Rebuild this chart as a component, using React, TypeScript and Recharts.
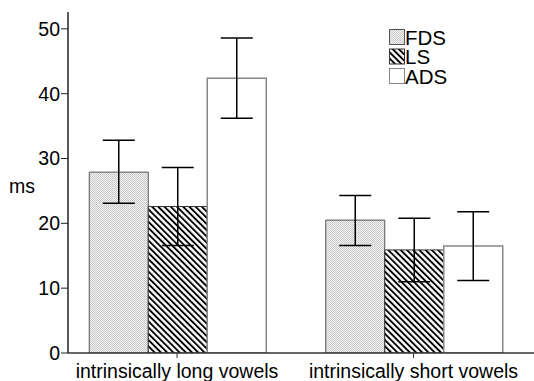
import React from 'react';
import { ComposedChart, Bar, XAxis, YAxis, ErrorBar, Customized } from 'recharts';

const categories = ['intrinsically long vowels', 'intrinsically short vowels'];
const seriesNames = ['FDS', 'LS', 'ADS'];
const fdsValues = [27.9, 20.5];
const fdsLow = [23.1, 16.6];
const fdsHigh = [32.8, 24.3];
const lsValues = [22.6, 15.9];
const lsLow = [16.6, 11.0];
const lsHigh = [28.6, 20.8];
const adsValues = [42.4, 16.5];
const adsLow = [36.2, 11.2];
const adsHigh = [48.6, 21.8];
const yTicks = [0, 10, 20, 30, 40, 50];

const data = categories.map((c, i) => ({
  name: c,
  FDS: fdsValues[i],
  FDSerr: [fdsValues[i] - fdsLow[i], fdsHigh[i] - fdsValues[i]],
  LS: lsValues[i],
  LSerr: [lsValues[i] - lsLow[i], lsHigh[i] - lsValues[i]],
  ADS: adsValues[i],
  ADSerr: [adsValues[i] - adsLow[i], adsHigh[i] - adsValues[i]],
}));

const FONT = '"Liberation Sans", Arial, sans-serif';
const fills = ['url(#dots)', 'url(#hatch)', '#ffffff'];
const strokes = ['#555', '#333', '#888'];

const LegendBox = () => (
  <g>
    {seriesNames.map((n, i) => (
      <g key={n}>
        <rect x={389.5} y={29.5 + i * 19.5} width={15} height={15} fill={fills[i]} stroke={strokes[i]} strokeWidth={1} />
        <text x={405} y={44.5 + i * 19.5} fontSize={20.5} fontFamily={FONT} fill="#000">{n}</text>
      </g>
    ))}
  </g>
);

export default function App() {
  return (
    <div style={{ position: 'absolute', left: 0, top: 0 }}>
      <ComposedChart
        width={534}
        height={381}
        data={data}
        margin={{ top: 12, right: 0, bottom: 0, left: 0 }}
        barCategoryGap={30.5}
        barGap={0}
      >
        <defs>
          <pattern id="dots" width={2} height={2} patternUnits="userSpaceOnUse">
            <rect x={0} y={0} width={2} height={2} fill="#f2f2f2" />
            <rect x={0} y={0} width={1} height={1} fill="#c4c4c4" />
            <rect x={1} y={1} width={1} height={1} fill="#d0d0d0" />
          </pattern>
          <pattern id="hatch" width={4.4} height={4.4} patternUnits="userSpaceOnUse" patternTransform="rotate(-45)">
            <rect x={0} y={0} width={4.4} height={4.4} fill="#ffffff" />
            <rect x={0} y={0} width={1.9} height={4.4} fill="#000000" />
          </pattern>
        </defs>
        <XAxis
          dataKey="name"
          xAxisId="top"
          orientation="top"
          height={0}
          tick={false}
          tickLine={false}
          axisLine={{ stroke: '#555', strokeWidth: 1.5 }}
        />
        <XAxis
          dataKey="name"
          padding={{ left: -9.25, right: 2.25 }}
          height={28}
          tickSize={5}
          tickMargin={6}
          tick={{ fontSize: 19.5, fill: '#000', fontFamily: FONT }}
          axisLine={{ stroke: '#333', strokeWidth: 1.5 }}
          tickLine={{ stroke: '#333' }}
          interval={0}
        />
        <YAxis
          width={68}
          domain={[0, 52.6]}
          ticks={yTicks}
          tickSize={7}
          tickMargin={1}
          tick={{ fontSize: 19.5, fill: '#000', fontFamily: FONT }}
          axisLine={{ stroke: '#222', strokeWidth: 1.5 }}
          tickLine={{ stroke: '#222' }}
          allowDataOverflow
          label={{ value: 'ms', position: 'insideLeft', offset: 9, fontSize: 19.5, fill: '#000', fontFamily: FONT, dy: 4 }}
        />
        <Bar dataKey="FDS" xAxisId={0} fill={fills[0]} stroke={strokes[0]} strokeWidth={1} isAnimationActive={false}>
          <ErrorBar dataKey="FDSerr" width={16} stroke="#000" strokeWidth={1.5} />
        </Bar>
        <Bar dataKey="LS" xAxisId={0} fill={fills[1]} stroke={strokes[1]} strokeWidth={1} isAnimationActive={false}>
          <ErrorBar dataKey="LSerr" width={16} stroke="#000" strokeWidth={1.5} />
        </Bar>
        <Bar dataKey="ADS" xAxisId={0} fill={fills[2]} stroke={strokes[2]} strokeWidth={1.5} isAnimationActive={false}>
          <ErrorBar dataKey="ADSerr" width={16} stroke="#000" strokeWidth={1.5} />
        </Bar>
        <Customized component={LegendBox} />
      </ComposedChart>
    </div>
  );
}
